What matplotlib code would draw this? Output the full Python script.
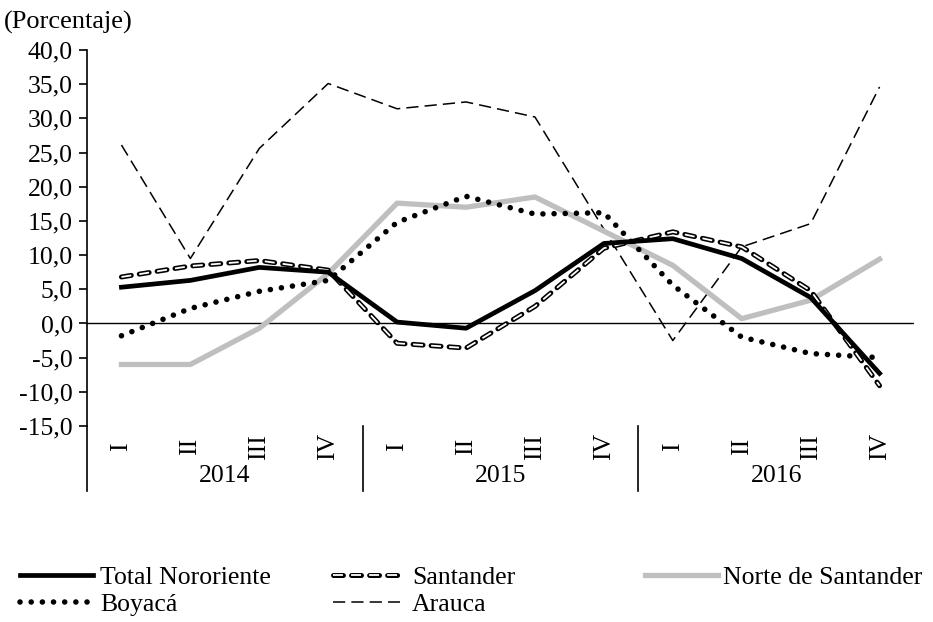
import matplotlib
matplotlib.use("Agg")
import matplotlib.pyplot as plt
import matplotlib.patheffects as pe
from matplotlib.ticker import FuncFormatter

plt.rcParams['font.family'] = ['Liberation Serif', 'DejaVu Serif']

quarters = ["I", "II", "III", "IV"] * 3
years = ["2014", "2015", "2016"]

total_nororiente = [5.3, 6.3, 8.2, 7.5, 0.2, -0.7, 4.8, 11.7, 12.4, 9.5, 3.8, -7.3]
santander = [6.8, 8.4, 9.2, 7.8, -2.9, -3.6, 2.5, 11.0, 13.4, 11.2, 4.8, -9.1]
norte_santander = [-6.0, -6.0, -0.7, 7.3, 17.6, 17.0, 18.5, 13.5, 8.5, 0.7, 3.4, 9.4]
boyaca = [-1.8, 2.2, 4.7, 6.3, 14.8, 18.6, 16.0, 16.2, 5.6, -2.0, -4.4, -5.0]
arauca = [26.1, 9.5, 25.6, 35.1, 31.4, 32.4, 30.2, 13.8, -2.5, 11.2, 14.6, 34.6]

FS = 18.5
W, H = 933, 622
fig = plt.figure(figsize=(W / 100, H / 100), dpi=100)
ax = fig.add_axes([87 / W, 1 - 426 / H, (914 - 87) / W, (426 - 50) / H])

x = list(range(len(quarters)))

ax.plot(x, arauca, color='black', lw=1.1, dashes=(8, 4), label='Arauca', zorder=2)
ax.plot(x, norte_santander, color='#bfbfbf', lw=3.8, solid_joinstyle='round',
        label='Norte de Santander', zorder=3)
ax.plot(x, boyaca, color='black', lw=4.0, linestyle=(0, (0.01, 2.0)),
        dash_capstyle='round', label='Boyacá', zorder=4)
ax.plot(x, santander, color='white', lw=1.3, dashes=(5.5, 4.5), dash_capstyle='butt',
        path_effects=[pe.Stroke(linewidth=3.6, foreground='black', capstyle='round'),
                      pe.Normal()],
        label='Santander', zorder=5)
ax.plot(x, total_nororiente, color='black', lw=3.4, solid_joinstyle='round',
        label='Total Nororiente', zorder=6)

ax.axhline(0, color='black', lw=1.0, zorder=1)

ax.set_xlim(-0.5, len(quarters) - 0.5)
ax.set_ylim(-15, 40)
ax.set_yticks(range(-15, 41, 5))
ax.yaxis.set_major_formatter(FuncFormatter(lambda v, p: f"{v:.1f}".replace('.', ',')))
ax.tick_params(axis='y', labelsize=FS, length=6, width=1.2, direction='out', pad=4)
ax.set_xticks([])
for s in ['top', 'right', 'bottom']:
    ax.spines[s].set_visible(False)
ax.spines['left'].set_linewidth(1.2)

# category labels
tr = ax.get_xaxis_transform()
for i, q in enumerate(quarters):
    ax.text(i, -0.055, q, transform=tr, rotation=90, ha='center', va='center',
            fontsize=FS, clip_on=False)
for j, yr in enumerate(years):
    ax.text(4 * j + 1.5, -0.132, yr, transform=tr, ha='center', va='center',
            fontsize=FS, clip_on=False)
for b in [-0.5, 3.5, 7.5]:
    ax.plot([b, b], [0, -0.172], transform=tr, color='black', lw=1.2, clip_on=False)

fig.text(4 / W, 1 - 22 / H, "(Porcentaje)", fontsize=FS + 0.5, ha='left', va='center')

handles = {h.get_label(): h for h in ax.get_lines() if not h.get_label().startswith('_')}

def col_legend(labels, x0, hl, pad):
    fig.legend([handles[l] for l in labels], labels, loc='upper left',
               bbox_to_anchor=(x0 / W, 1 - 566 / H), frameon=False, fontsize=FS,
               handlelength=hl, handletextpad=pad, labelspacing=0.16,
               borderaxespad=0, borderpad=0)

col_legend(['Total Nororiente', 'Boyacá'], 20, 2.85, 0.28)
col_legend(['Santander', 'Arauca'], 333, 2.6, 0.48)
col_legend(['Norte de Santander'], 645, 2.85, 0.2)

fig.savefig('out.png', dpi=100)
